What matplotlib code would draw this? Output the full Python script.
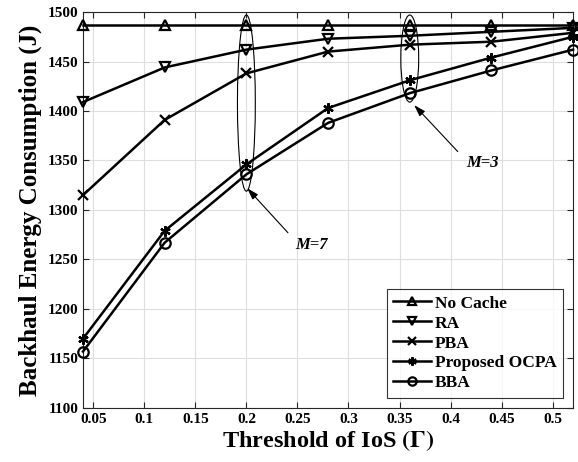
import matplotlib.pyplot as plt
from matplotlib.patches import Ellipse

plt.rcParams['font.family'] = ['Liberation Serif', 'DejaVu Serif']
plt.rcParams['font.weight'] = 'bold'
plt.rcParams['mathtext.fontset'] = 'stix'

# data
gamma = [0.04, 0.12, 0.20, 0.28, 0.36, 0.44, 0.52]
no_cache = [1487, 1487, 1487, 1487, 1487, 1487, 1487]
ra = [1409, 1444, 1462, 1473, 1476, 1480, 1484]
pba = [1315, 1391, 1438, 1460, 1467, 1470, 1479]
ocpa = [1170, 1279, 1346, 1403, 1431, 1454, 1475]
bba = [1157, 1267, 1336, 1388, 1418, 1441, 1462]

series = [
    ("No Cache", no_cache, "^"),
    ("RA", ra, "v"),
    ("PBA", pba, "x"),
    ("Proposed OCPA", ocpa, (6, 2, 0)),
    ("BBA", bba, "o"),
]

fig = plt.figure(figsize=(5.78, 4.62), dpi=100)
ax = fig.add_axes([0.1436, 0.117, 0.848, 0.857])

for name, vals, mk in series:
    ax.plot(gamma, vals, color="black", lw=1.8, marker=mk, markersize=7.5,
            markerfacecolor="none", markeredgewidth=1.6, label=name,
            clip_on=False, zorder=3)

# ellipses marking M=7 and M=3 groups
ax.add_patch(Ellipse((0.2, 1408), 0.0175, 178, fill=False, lw=0.8, color="black"))
ax.add_patch(Ellipse((0.36, 1453), 0.0175, 88, fill=False, lw=0.8, color="black"))

arrow = dict(arrowstyle="-|>,head_length=0.7,head_width=0.22", lw=0.8,
             color="black", shrinkA=0, shrinkB=0)
ax.annotate("", xy=(0.2008, 1322), xytext=(0.2407, 1277), arrowprops=arrow)
ax.annotate("", xy=(0.3643, 1406), xytext=(0.407, 1359), arrowprops=arrow)
ax.text(0.264, 1265, "M=7", fontsize=12, fontstyle="italic",
        fontweight="bold", ha="center", va="center")
ax.text(0.4314, 1347, "M=3", fontsize=12, fontstyle="italic",
        fontweight="bold", ha="center", va="center")

ax.set_xlim(0.04, 0.52)
ax.set_ylim(1100, 1500)
ax.set_xticks([0.05, 0.1, 0.15, 0.2, 0.25, 0.3, 0.35, 0.4, 0.45, 0.5])
ax.set_xticklabels(["0.05", "0.1", "0.15", "0.2", "0.25", "0.3", "0.35",
                    "0.4", "0.45", "0.5"])
ax.set_yticks(range(1100, 1501, 50))
ax.tick_params(direction="in", top=True, right=True, labelsize=11,
               color="#262626", length=4)
for s in ax.spines.values():
    s.set_color("#262626")
    s.set_linewidth(0.8)
ax.grid(color="#dedede", lw=0.8)
ax.set_axisbelow(True)

ax.set_xlabel(r"Threshold of IoS $(\Gamma)$", fontsize=17.5, fontweight="bold",
              labelpad=2)
ax.set_ylabel("Backhaul Energy Consumption (J)", fontsize=18, fontweight="bold",
              labelpad=4)

leg = ax.legend(loc="lower right", fontsize=12.5, frameon=True, fancybox=False,
                edgecolor="black", handlelength=2.2, handletextpad=0.2,
                borderpad=0.35, labelspacing=0.22, borderaxespad=0.6,
                markerscale=0.8)
leg.get_frame().set_linewidth(0.8)

fig.savefig("out.png", dpi=100)
